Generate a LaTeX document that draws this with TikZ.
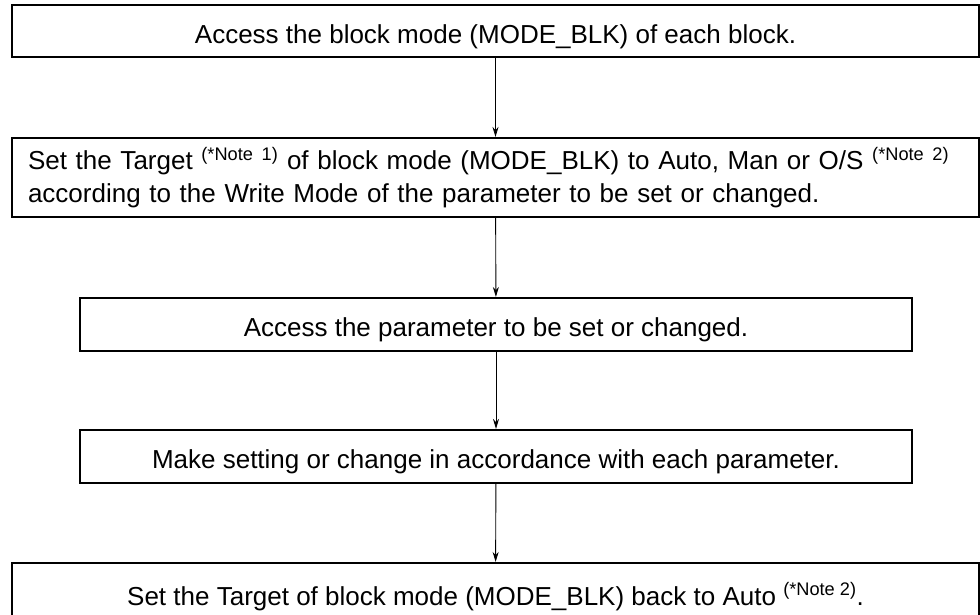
\documentclass[tikz,border=0pt]{standalone}
\usepackage{fontspec}
\setmainfont{Liberation Sans}
\usetikzlibrary{arrows.meta}
\newcommand\mynote[1]{\textsuperscript{(*Note #1)}}
\begin{document}
\begin{tikzpicture}[x=1pt,y=-1pt,
  box/.style={draw=black,line width=2.2pt,fill=white,inner sep=0pt,
    font=\fontsize{26}{33}\selectfont},
  one/.style={text height=25pt,text depth=1pt},
  conn/.style={draw=black,line width=0.9pt,-{Stealth[length=10pt,width=6pt]}}]
\useasboundingbox (0,0) rectangle (980,614);
\node[box,one,minimum width=967pt,minimum height=52pt] (b1) at (495.5,31) {Access the block mode (MODE\_BLK) of each block.};
\node[box,minimum height=79pt,text width=935pt,inner xsep=16pt,align=left] (b2) at (495.5,177.5)
  {Set the Target \mynote{1} of block mode (MODE\_BLK) to Auto, Man or O/S \mynote{2}\\according to the Write Mode of the parameter to be set or changed.};
\node[box,one,minimum width=832pt,minimum height=53pt] (b3) at (496,324.5) {Access the parameter to be set or changed.};
\node[box,one,minimum width=832pt,minimum height=53pt] (b4) at (496,456.5) {Make setting or change in accordance with each parameter.};
\node[box,one,minimum width=967pt,minimum height=60pt] (b5) at (495.5,593) {Set the Target of block mode (MODE\_BLK) back to Auto \mynote{2}.};
\draw[conn] (b1) -- (b2);
\draw[conn] (b2) -- (b3);
\draw[conn] (b3) -- (b4);
\draw[conn] (b4) -- (b5);
\end{tikzpicture}
\end{document}
